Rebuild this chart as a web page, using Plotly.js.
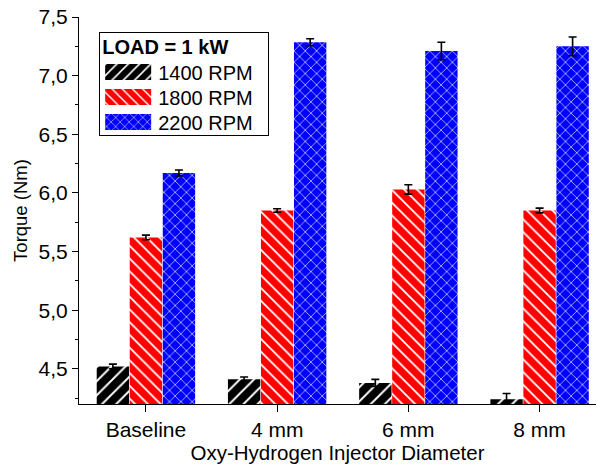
<!DOCTYPE html>
<html><head><meta charset="utf-8">
<script src="https://cdn.plot.ly/plotly-3.0.1.min.js"></script>
<style>body{margin:0;background:#fff}#chart{width:597px;height:464px}</style>
</head><body><div id="chart"></div>
<script>
const categories = ["Baseline", "4 mm", "6 mm", "8 mm"];
const rpm1400 = [4.52, 4.41, 4.38, 4.24];
const rpm1400Err = [0.02, 0.02, 0.03, 0.05];
const rpm1800 = [5.62, 5.85, 6.03, 5.85];
const rpm1800Err = [0.02, 0.015, 0.04, 0.02];
const rpm2200 = [6.17, 7.285, 7.21, 7.25];
const rpm2200Err = [0.025, 0.03, 0.075, 0.08];
const seriesNames = ["1400 RPM", "1800 RPM", "2200 RPM"];
const legendTitle = "LOAD = 1 kW";

const FONT = "Arial, 'Liberation Sans', sans-serif";
function err(a){return {type:'data', array:a, visible:true, color:'#000', thickness:1.6, width:4};}
const traces = [
  {type:'bar', name:seriesNames[0], x:categories, y:rpm1400, error_y:err(rpm1400Err),
   marker:{color:'#000', line:{width:0}, pattern:{shape:'/', fgcolor:'#fff', bgcolor:'#000', size:10, solidity:0.2}}},
  {type:'bar', name:seriesNames[1], x:categories, y:rpm1800, error_y:err(rpm1800Err),
   marker:{color:'#ff0000', line:{width:0}, pattern:{shape:'\\', fgcolor:'#fff', bgcolor:'#ff0000', size:9, solidity:0.2}}},
  {type:'bar', name:seriesNames[2], x:categories, y:rpm2200, error_y:err(rpm2200Err),
   marker:{color:'#0000ff', line:{width:0}, pattern:{shape:'x', fgcolor:'#fff', bgcolor:'#0000ff', size:8, solidity:0.15}}}
];
const layout = {
  width:597, height:464,
  margin:{l:79, r:1, t:17, b:60},
  paper_bgcolor:'#fff', plot_bgcolor:'#fff',
  separators:',.',
  font:{family:FONT, size:20, color:'#000'},
  barmode:'group', bargap:0.245, bargroupgap:0.02,
  showlegend:true,
  legend:{x:0.039, y:0.96, xanchor:'left', yanchor:'top', bgcolor:'#fff',
    bordercolor:'#000', borderwidth:1, font:{family:FONT, size:20, color:'#000'},
    title:{text:legendTitle, font:{family:FONT, size:20, color:'#000', weight:'bold'}},
    tracegroupgap:0, traceorder:'normal'},
  xaxis:{type:'category', range:[-0.51, 3.43], showline:true, linecolor:'#000', linewidth:1,
    ticks:'outside', ticklen:7, tickcolor:'#000', showgrid:false, zeroline:false,
    tickfont:{family:FONT, size:21},
    title:{text:'Oxy-Hydrogen Injector Diameter', font:{family:FONT, size:20.5}, standoff:5}},
  yaxis:{range:[4.2, 7.5], showline:true, linecolor:'#000', linewidth:1,
    ticks:'outside', ticklen:6, tickcolor:'#000', tick0:4.5, dtick:0.5, tickformat:'.1f',
    minor:{dtick:0.25, tick0:4.5, ticks:'outside', ticklen:3, tickcolor:'#000', showgrid:false},
    showgrid:false, zeroline:false, tickfont:{family:FONT, size:21},
    title:{text:'Torque (Nm)', font:{family:FONT, size:18.5}, standoff:6}}
};
function shiftY(el, ref, target){
  const r = ref.getBoundingClientRect();
  const dy = target - (r.top + r.bottom)/2;
  el.setAttribute('transform', (el.getAttribute('transform')||'') + ' translate(0,' + dy + ')');
}
Plotly.newPlot('chart', traces, layout, {staticPlot:true, displayModeBar:false}).then(function(gd){
  const leg = gd.querySelector('.legend');
  if(!leg) return;
  const sb = leg.querySelector('.scrollbox');
  if(sb) sb.removeAttribute('clip-path');
  const targets = [72, 97, 122];
  leg.querySelectorAll('.traces').forEach(function(t, i){
    const p = t.querySelector('.legendpoints path');
    if(p) p.setAttribute('d','M-15,-8H31V8H-15Z');
    const txt = t.querySelector('text.legendtext');
    if(txt) txt.setAttribute('x', 58);
    if(p && i < targets.length) shiftY(t, p, targets[i]);
  });
  const title = leg.querySelector('.legendtitletext');
  if(title) shiftY(title, title, 47);
  const bg = leg.querySelector('rect.bg');
  if(bg){
    const top = bg.getBoundingClientRect().top;
    bg.setAttribute('width', 169);
    bg.setAttribute('height', 135 - top);
  }
});
</script></body></html>
